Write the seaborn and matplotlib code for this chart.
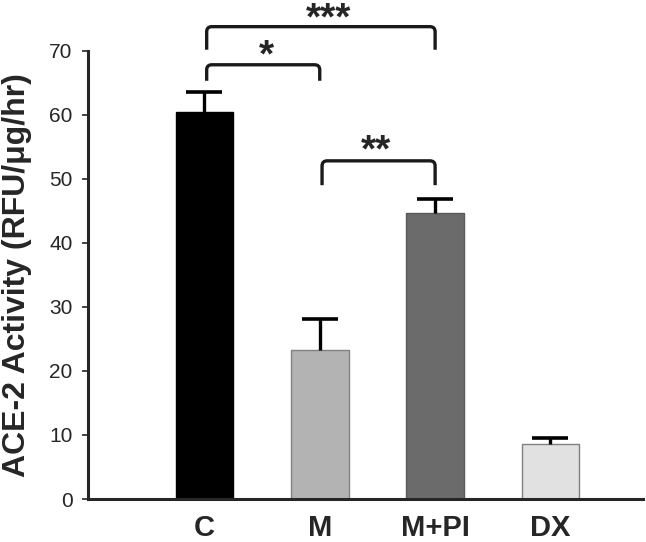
import numpy as np
import pandas as pd
import matplotlib
matplotlib.use("Agg")
import matplotlib.pyplot as plt
from matplotlib.path import Path
from matplotlib.patches import PathPatch
import seaborn as sns

groups = ["C", "M", "M+PI", "DX"]
activity = [60.5, 23.2, 44.6, 8.6]
sem = [3.0, 4.9, 2.2, 1.0]
bar_colors = ["#000000", "#b3b3b3", "#6b6b6b", "#e1e1e1"]
edge_colors = ["#000000", "#808080", "#5a5a5a", "#808080"]

# significance brackets: (left group, right group, top, drop, label)
brackets = [(0, 2, 73.75, 3.6, "***"),
            (0, 1, 67.8, 2.5, "*"),
            (1, 2, 52.8, 3.8, "**")]
star_pos = [(1.08, 72.1), (0.54, 66.3), (1.49, 51.4)]

sns.set_style("ticks")
plt.rcParams['font.family'] = ['Liberation Sans', 'DejaVu Sans']

df = pd.DataFrame({"group": groups, "activity": activity})

fig = plt.figure(figsize=(6.46, 5.42), dpi=100)
ax = fig.add_axes([0.136, 0.0793, 0.859, 0.8272])

sns.barplot(data=df, x="group", y="activity", hue="group", palette=bar_colors,
            order=groups, hue_order=groups, legend=False, errorbar=None,
            width=0.5, ax=ax, saturation=1)
for patch, ec in zip(ax.patches, edge_colors):
    patch.set_edgecolor(ec)
    patch.set_linewidth(1.0)

# upper-only error bars
x = np.arange(len(groups))
eb = ax.errorbar(x, activity, yerr=[np.zeros(len(groups)), sem], fmt="none",
                 ecolor="black", elinewidth=2.4, capsize=13.3, capthick=2.6, zorder=5)
eb[1][0].set_visible(False)

ax.set_xlim(-1.01, 3.80)
ax.set_ylim(0, 70)
ax.set_yticks(range(0, 71, 10))
ax.set_xlabel("")
ax.set_ylabel("ACE-2 Activity (RFU/μg/hr)", fontsize=23, fontweight="bold")
ax.yaxis.set_label_coords(-0.100, 0.5)
ax.tick_params(axis="y", labelsize=15, length=4, width=1.2, pad=7, direction="out")
ax.tick_params(axis="x", length=0, pad=11)
for lbl in ax.get_xticklabels():
    lbl.set_fontsize(21)
    lbl.set_fontweight("bold")

sns.despine(ax=ax)
ax.spines["left"].set_linewidth(2.2)
ax.spines["bottom"].set_linewidth(2.2)

rx, ry = 0.045, 0.8
for (a, b, top, drop, label), (sx, sy) in zip(brackets, star_pos):
    xa, xb = a + 0.02, b
    verts = [(xa, top - drop), (xa, top - ry), (xa, top), (xa + rx, top),
             (xb - rx, top), (xb, top), (xb, top - ry), (xb, top - drop)]
    codes = [Path.MOVETO, Path.LINETO, Path.CURVE3, Path.CURVE3,
             Path.LINETO, Path.CURVE3, Path.CURVE3, Path.LINETO]
    ax.add_patch(PathPatch(Path(verts, codes), fill=False, lw=2.4,
                           edgecolor="#1a1a1a", clip_on=False, capstyle="butt"))
    ax.text(sx, sy, label, ha="center", va="bottom", fontsize=28,
            fontweight="bold", clip_on=False)

fig.savefig("out.png", dpi=100)
